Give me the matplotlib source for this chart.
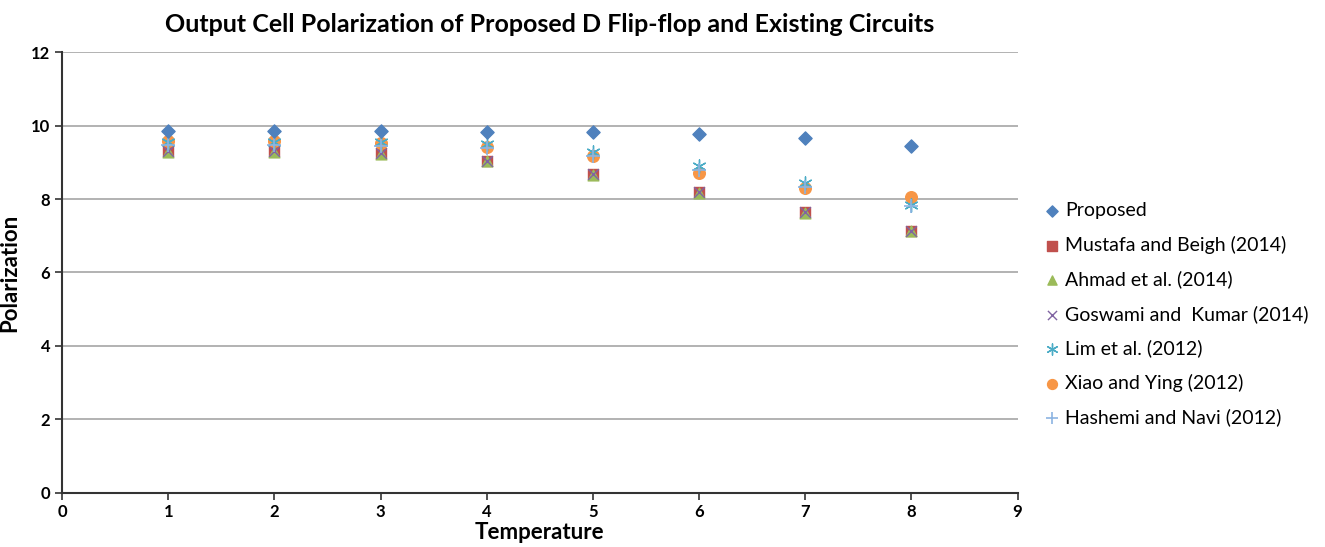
import matplotlib
matplotlib.use("Agg")
import matplotlib.pyplot as plt

temperature = [1, 2, 3, 4, 5, 6, 7, 8]
proposed = [9.86, 9.86, 9.85, 9.84, 9.83, 9.78, 9.66, 9.44]
mustafa = [9.30, 9.30, 9.26, 9.05, 8.68, 8.18, 7.65, 7.14]
ahmad = [9.27, 9.27, 9.23, 9.03, 8.66, 8.16, 7.63, 7.12]
goswami = [9.30, 9.30, 9.26, 9.05, 8.68, 8.18, 7.65, 7.14]
lim = [9.55, 9.55, 9.55, 9.50, 9.28, 8.90, 8.45, 7.85]
xiao = [9.58, 9.58, 9.52, 9.42, 9.18, 8.70, 8.30, 8.05]
hashemi = [9.48, 9.48, 9.45, 9.40, 9.18, 8.78, 8.33, 7.80]

labels = ["Proposed", "Mustafa and Beigh (2014)", "Ahmad et al. (2014)",
          "Goswami and  Kumar (2014)", "Lim et al. (2012)", "Xiao and Ying (2012)",
          "Hashemi and Navi (2012)"]

plt.rcParams['font.family'] = ['Lato', 'DejaVu Sans']

fig = plt.figure(figsize=(13.25, 5.47), dpi=100)
ax = fig.add_axes([0.0468, 0.0996, 0.7212, 0.8048])

ax.scatter(temperature, mustafa, marker='s', s=60, color='#C0504D', label=labels[1], zorder=3)
ax.scatter(temperature, ahmad, marker='^', s=60, color='#9BBB59', label=labels[2], zorder=3)
ax.scatter(temperature, goswami, marker='x', s=60, color='#8064A2', linewidths=1.0, label=labels[3], zorder=3)
ax.scatter(temperature, xiao, marker='o', s=70, color='#F79646', label=labels[5], zorder=3)
ax.scatter(temperature, lim, marker=(6, 2, 0), s=90, color='#4BACC6', linewidths=1.0, label=labels[4], zorder=3)
ax.scatter(temperature, hashemi, marker='+', s=90, color='#8CB4E2', linewidths=1.2, label=labels[6], zorder=3)
ax.scatter(temperature, proposed, marker='D', s=45, color='#4F81BD', label=labels[0], zorder=4)

ax.set_xlim(0, 9)
ax.set_ylim(0, 12)
ax.set_xticks(range(0, 10))
ax.set_yticks(range(0, 13, 2))
ax.yaxis.grid(True, color='#A6A6A6', linewidth=1.2)
ax.set_axisbelow(True)
for s in ['top', 'right']:
    ax.spines[s].set_visible(False)
for s in ['left', 'bottom']:
    ax.spines[s].set_color('#333333')
    ax.spines[s].set_linewidth(1.5)
ax.tick_params(axis='both', labelsize=12, length=5, width=1.2, color='#333333')
for lab in ax.get_xticklabels() + ax.get_yticklabels():
    lab.set_fontweight('bold')

ax.set_xlabel("Temperature", fontsize=16, fontweight='bold', labelpad=1)
ax.set_ylabel("Polarization", fontsize=16, fontweight='bold', labelpad=8)
fig.text(0.415, 0.955, "Output Cell Polarization of Proposed D Flip-flop and Existing Circuits",
         ha='center', va='center', fontsize=18, fontweight='bold')

handles, labs = ax.get_legend_handles_labels()
order = [labs.index(l) for l in labels]
leg = ax.legend([handles[i] for i in order], [labs[i] for i in order],
                loc='center left', bbox_to_anchor=(1.005, 0.405), frameon=False,
                fontsize=14, labelspacing=0.85, handletextpad=0.1, handlelength=1.2,
                markerscale=0.85)

fig.savefig("out.png", dpi=100)
